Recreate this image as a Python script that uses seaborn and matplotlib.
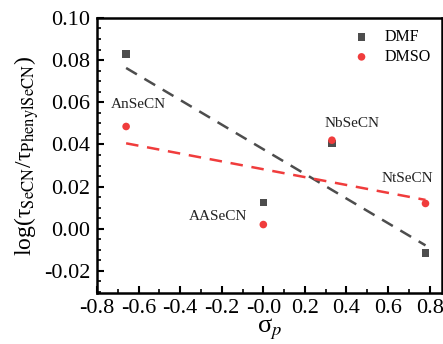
import numpy as np
import pandas as pd
import matplotlib
matplotlib.use('Agg')
import matplotlib.pyplot as plt
import seaborn as sns
from matplotlib.ticker import MultipleLocator

# dados
sigma_p = [-0.66, 0.0, 0.33, 0.78]
compostos = ['AnSeCN', 'AASeCN', 'NbSeCN', 'NtSeCN']
log_dmf = [0.083, 0.0125, 0.0405, -0.0115]
log_dmso = [0.0485, 0.002, 0.042, 0.012]

df = pd.DataFrame({'sigma': sigma_p * 2,
                   'logtau': log_dmf + log_dmso,
                   'solvente': ['DMF'] * 4 + ['DMSO'] * 4})

sns.set_style('ticks')
plt.rcParams['font.family'] = ['Liberation Serif', 'DejaVu Serif']
plt.rcParams['mathtext.fontset'] = 'stix'
plt.rcParams['xtick.direction'] = 'in'
plt.rcParams['ytick.direction'] = 'in'
for k in ['text.color', 'axes.labelcolor', 'xtick.color', 'ytick.color', 'axes.edgecolor']:
    plt.rcParams[k] = 'black'

cores = {'DMF': '#4d4d4d', 'DMSO': '#f03c3c'}
marcadores = {'DMF': 's', 'DMSO': 'o'}

fig = plt.figure(figsize=(4.43, 3.44), dpi=100)
ax = fig.add_axes([0.219, 0.148, 0.779, 0.8])

for solv in ['DMF', 'DMSO']:
    sub = df[df['solvente'] == solv]
    sns.scatterplot(data=sub, x='sigma', y='logtau', color=cores[solv],
                    marker=marcadores[solv], s=30, edgecolor='none',
                    label=solv, ax=ax, zorder=3)
    sns.regplot(data=sub, x='sigma', y='logtau', ci=None, scatter=False,
                color=cores[solv], ax=ax,
                line_kws={'linestyle': (0, (5, 3.5)), 'linewidth': 1.8})

# rótulos dos compostos
pos_rotulos = [(-0.603, 0.0588), (-0.218, 0.0057), (0.426, 0.0498), (0.695, 0.0237)]
for nome, (px, py) in zip(compostos, pos_rotulos):
    ax.text(px, py, nome, ha='center', va='center', fontsize=11, color='#222222')

ax.set_xlim(-0.8, 0.86)
ax.set_ylim(-0.0305, 0.10)
ax.xaxis.set_minor_locator(MultipleLocator(0.1))
ax.yaxis.set_minor_locator(MultipleLocator(0.005))
ax.set_xticks(np.arange(-0.8, 0.81, 0.2))
ax.set_xticklabels([f'{v:.1f}' for v in np.arange(-0.8, 0.81, 0.2)])
ax.set_yticks(np.arange(-0.02, 0.101, 0.02))
ax.set_yticklabels([f'{v:.2f}' for v in np.arange(-0.02, 0.101, 0.02)])
ax.tick_params(which='major', length=5, width=1.5, labelsize=16)
ax.tick_params(axis='y', which='major', pad=5)
ax.tick_params(axis='x', which='major', pad=4.5)
ax.tick_params(which='minor', length=3, width=1.2)
for sp in ax.spines.values():
    sp.set_linewidth(1.8)

ax.set_xlabel('σ$_p$', fontsize=19, labelpad=-1)
ax.set_ylabel('log(τ$_{\\mathrm{SeCN}}$/τ$_{\\mathrm{PhenylSeCN}}$)', fontsize=17, labelpad=2)

ax.legend(loc='upper right', bbox_to_anchor=(1.0, 1.0), frameon=False, fontsize=11.5,
          handletextpad=0.45, labelspacing=0.25, borderaxespad=0.3, borderpad=0.4)

plt.savefig('out.png', dpi=100)
